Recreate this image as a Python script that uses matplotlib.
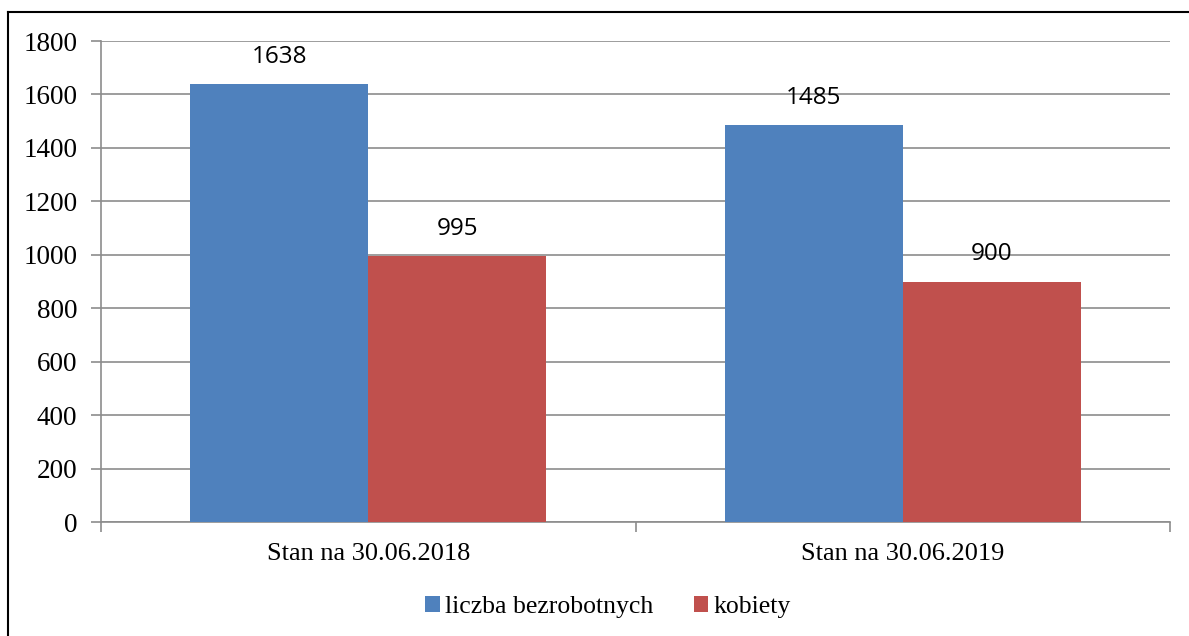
import matplotlib
matplotlib.use("Agg")
import matplotlib.pyplot as plt
from matplotlib.lines import Line2D
from matplotlib.patches import Patch
import numpy as np

categories = ["Stan na 30.06.2018", "Stan na 30.06.2019"]
series_names = ["liczba bezrobotnych", "kobiety"]
bezrobotni = [1638, 1485]
kobiety = [995, 900]
yticks = [0, 200, 400, 600, 800, 1000, 1200, 1400, 1600, 1800]

blue = "#4F81BD"
red = "#C0504D"
grid = "#8C8C8C"
serif = "Liberation Serif"
sans = "Open Sans"

fig = plt.figure(figsize=(11.89, 6.36), dpi=100)
ax = fig.add_axes([101/1189, 1-522/636, (1170-101)/1189, (522-41)/636])

x = np.arange(len(categories))
w = 1/3
b1 = ax.bar(x - w/2, bezrobotni, width=w, color=blue, zorder=3)
b2 = ax.bar(x + w/2, kobiety, width=w, color=red, zorder=3)

for bars, vals in ((b1, bezrobotni), (b2, kobiety)):
    for rect, v in zip(bars, vals):
        ax.annotate(str(v), (rect.get_x() + rect.get_width()/2, v),
                    xytext=(0, 19.5), textcoords="offset points",
                    ha="center", va="center", fontsize=17.5, family=sans, zorder=5)

ax.set_xlim(-0.5, len(categories) - 0.5)
ax.set_ylim(0, 1800)
ax.set_yticks(yticks)
ax.set_yticklabels([str(t) for t in yticks], family=serif, fontsize=19.5)
ax.yaxis.grid(True, color=grid, linewidth=1.2, zorder=0)
ax.set_xticks(x)
ax.set_xticklabels(categories, family=serif, fontsize=19)
ax.tick_params(axis="x", length=0, pad=15)
ax.tick_params(axis="y", length=7, width=1.2, color=grid, pad=10)
# category boundary ticks
ax.set_xticks([-0.5, 0.5, 1.5], minor=True)
ax.tick_params(axis="x", which="minor", length=7, width=1.2, color=grid, direction="out")

for s in ("top", "right"):
    ax.spines[s].set_visible(False)
for s in ("left", "bottom"):
    ax.spines[s].set_color(grid)
    ax.spines[s].set_linewidth(1.2)

handles = [Patch(facecolor=blue, edgecolor="none"), Patch(facecolor=red, edgecolor="none")]
leg = fig.legend(handles, series_names, loc="center", bbox_to_anchor=(608/1189, 1-607/636),
                 ncol=2, frameon=False, prop={"family": serif, "size": 18.5},
                 handlelength=0.55, handleheight=0.55, handletextpad=0.2, columnspacing=1.6)

# outer frame (top and left visible)
fig.add_artist(Line2D([8/1189, 8/1189], [0, 1-12/636], color="black", linewidth=1.5,
                      transform=fig.transFigure))
fig.add_artist(Line2D([8/1189, 1], [1-12/636, 1-12/636], color="black", linewidth=1.5,
                      transform=fig.transFigure))

fig.savefig("out.png", dpi=100)
